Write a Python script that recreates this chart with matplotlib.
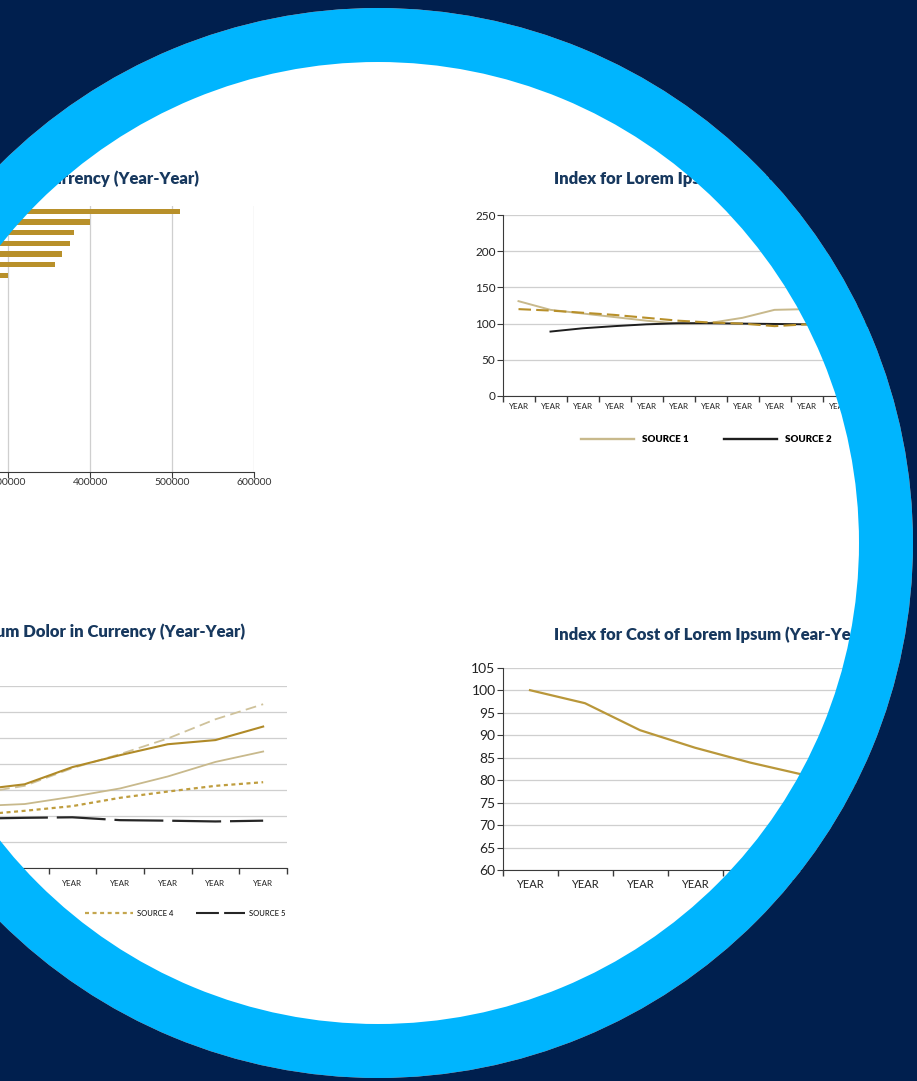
import matplotlib.pyplot as plt
from matplotlib.patches import Wedge
from matplotlib.lines import Line2D
import numpy as np

W, H = 917, 1081

# ---- data ----
# top-left: horizontal bars (only the longest ones are visible)
bar_values = [510000, 400000, 380000, 376000, 366000, 357000, 300000,
              285000, 272000, 260000, 251000, 240000, 228000, 217000, 205000,
              193000, 181000, 168000, 155000, 141000, 128000, 112000, 96000,
              78000, 60000]
bar_ticks = [0, 100000, 200000, 300000, 400000, 500000, 600000]

# top-right: index lines
years_tr = ['YEAR'] * 12
src1_tr = [131, 119, 114, 109, 104, 100, 101, 108, 119, 120, 122, 124]
src2_tr = [np.nan, 89, 93.5, 96.5, 99, 100.5, 100.5, 100, 99.5, 99, 98, 97]
src3_tr = [120, 118, 115, 112, 108, 104, 101.5, 100, 96.5, 99, 100, 101]

# bottom-left: five sources
years_bl = ['YEAR'] * 8
src1_bl = [135, 150, 161, 194, 217, 238, 246, 272]
src2_bl = [112, 119, 123, 137, 153, 176, 204, 224]
src3_bl = [130, 143, 158, 192, 219, 249, 286, 315]
src4_bl = [98, 102, 110, 119, 135, 147, 158, 165]
src5_bl = [94, 95, 96.5, 97.5, 92, 91, 89.5, 91]

# bottom-right: cost index
years_br = ['YEAR'] * 7
cost_br = [100, 97.1, 91.1, 87.2, 83.9, 81.1, 78.6]

navy = '#001f4e'
ring_blue = '#00b5fe'
title_col = '#17385e'
gold = '#b8902a'
gold_dark = '#b08a28'
tan = '#c8b98c'
tan_light = '#cfc29b'
grid_col = '#cfcfcf'
axis_col = '#3a3a3a'

plt.rcParams['font.family'] = ['Lato', 'DejaVu Sans']

fig = plt.figure(figsize=(W / 100, H / 100), dpi=100, facecolor='white')


def px_axes(left, top, right, bottom):
    return fig.add_axes([left / W, 1 - bottom / H, (right - left) / W, (bottom - top) / H])


def title(x, y, s, ha):
    fig.text(x / W, 1 - y / H, s, ha=ha, va='center', fontsize=12,
             fontweight='heavy', color=title_col)


def cat_axis(ax, n, size, pad):
    ax.set_xlim(-0.5, n - 0.5)
    ax.set_xticks(np.arange(n))
    ax.set_xticks(np.arange(n + 1) - 0.5, minor=True)
    ax.tick_params(axis='x', which='major', length=0, labelsize=size, pad=pad, colors='#222222')
    ax.tick_params(axis='x', which='minor', length=4, width=1, color=axis_col)
    for s in ['top', 'right']:
        ax.spines[s].set_visible(False)
    for s in ['left', 'bottom']:
        ax.spines[s].set_color(axis_col)
    ax.grid(axis='y', color=grid_col, linewidth=0.9)
    ax.set_axisbelow(True)


# ---- top-left bar chart ----
ax1 = px_axes(-238.3, 206, 254.3, 472)
ax1.barh(np.arange(len(bar_values)), bar_values, height=0.5, color=gold)
ax1.set_ylim(len(bar_values) - 0.5, -0.5)
ax1.set_xlim(0, 600000)
ax1.set_xticks(bar_ticks)
ax1.set_xticklabels([str(v) for v in bar_ticks])
ax1.set_yticks([])
ax1.tick_params(axis='x', labelsize=7.5, length=4, pad=0.5, color=axis_col, colors='#333333')
for s in ['top', 'right', 'left']:
    ax1.spines[s].set_visible(False)
ax1.spines['bottom'].set_color(axis_col)
ax1.grid(axis='x', color=grid_col, linewidth=0.9)
ax1.set_axisbelow(True)
title(199, 179, 'Lorem in Currency (Year-Year)', 'right')

# ---- top-right index chart ----
ax2 = px_axes(502.5, 215, 886.5, 396)
x = np.arange(len(years_tr))
ax2.plot(x, src1_tr, color=tan, lw=1.4)
ax2.plot(x, src2_tr, color='#1e1e1e', lw=1.4)
ax2.plot(x, src3_tr, color=gold, lw=1.5, linestyle=(0, (6, 2.5)))
ax2.set_ylim(0, 250)
ax2.set_yticks(range(0, 251, 50))
ax2.tick_params(axis='y', labelsize=8.5, length=4, color=axis_col, colors='#222222', pad=1)
cat_axis(ax2, len(years_tr), 5.8, 5)
ax2.set_xticklabels(years_tr)
handles = [Line2D([], [], color=tan, lw=1.7),
           Line2D([], [], color='#1e1e1e', lw=1.7),
           Line2D([], [], color=gold, lw=1.7, linestyle=(0, (6, 2.5)))]
ax2.legend(handles, ['SOURCE 1', 'SOURCE 2', 'SOURCE 3'], ncol=3, loc='center left',
           bbox_to_anchor=(581 / W, 1 - 440 / H), bbox_transform=fig.transFigure,
           frameon=False, prop={'size': 7, 'weight': 'heavy'}, handlelength=5.45,
           handletextpad=0.82, columnspacing=3.6, borderpad=0, borderaxespad=0)
title(554, 179, 'Index for Lorem Ipsum (Year-Year)', 'left')

# ---- bottom-left multi source chart ----
ax3 = px_axes(-94.6, 686, 287, 868)
x = np.arange(len(years_bl))
ax3.plot(x, src3_bl, color=tan_light, lw=1.3, linestyle=(0, (6, 3)))
ax3.plot(x, src2_bl, color=tan, lw=1.3)
ax3.plot(x, src1_bl, color=gold_dark, lw=1.5)
ax3.plot(x, src4_bl, color='#bf9d3e', lw=1.6, linestyle=(0, (1.8, 1.6)))
ax3.plot(x, src5_bl, color='#262626', lw=1.6, linestyle=(0, (22, 4)))
ax3.set_ylim(0, 350)
ax3.set_yticks(range(0, 351, 50))
ax3.tick_params(axis='y', length=0, labelleft=False)
cat_axis(ax3, len(years_bl), 5.8, 9)
ax3.set_xticklabels(years_bl)
handles = [Line2D([], [], color='#c4a64e', lw=1.6, linestyle=(0, (1.8, 1.6))),
           Line2D([], [], color='#262626', lw=1.5, linestyle=(0, (11, 2.5)))]
ax3.legend(handles, ['SOURCE 4', 'SOURCE 5'], ncol=2,
           loc='center right', bbox_to_anchor=(285 / W, 1 - 913 / H),
           bbox_transform=fig.transFigure, frameon=False, prop={'size': 5.5},
           handlelength=6.4, handletextpad=0.5, columnspacing=2.9, borderpad=0,
           borderaxespad=0)
title(245, 632, 'Lorem Ipsum Dolor in Currency (Year-Year)', 'right')

# ---- bottom-right cost index ----
ax4 = px_axes(502.5, 667.7, 887.5, 870)
x = np.arange(len(years_br))
ax4.plot(x, cost_br, color='#b9973a', lw=1.6)
ax4.set_ylim(60, 105)
ax4.set_yticks(range(60, 106, 5))
ax4.tick_params(axis='y', labelsize=10, length=4, color=axis_col, colors='#222222', pad=1)
cat_axis(ax4, len(years_br), 8, 6.5)
ax4.set_xticklabels(years_br)
title(554, 635, 'Index for Cost of Lorem Ipsum (Year-Year)', 'left')

# ---- ring frame on top ----
cx, cy = 378, 543
r_out, r_in = 535, 481
ov = fig.add_axes([0, 0, 1, 1], zorder=10)
ov.set_xlim(0, W)
ov.set_ylim(H, 0)
ov.axis('off')
ov.add_patch(Wedge((cx, cy), r_out, 0, 360, width=r_out - r_in, color=ring_blue, lw=0))
ov.add_patch(Wedge((cx, cy), 3000, 0, 360, width=3000 - r_out, color=navy, lw=0))

fig.savefig('out.png', dpi=100, facecolor='white')
